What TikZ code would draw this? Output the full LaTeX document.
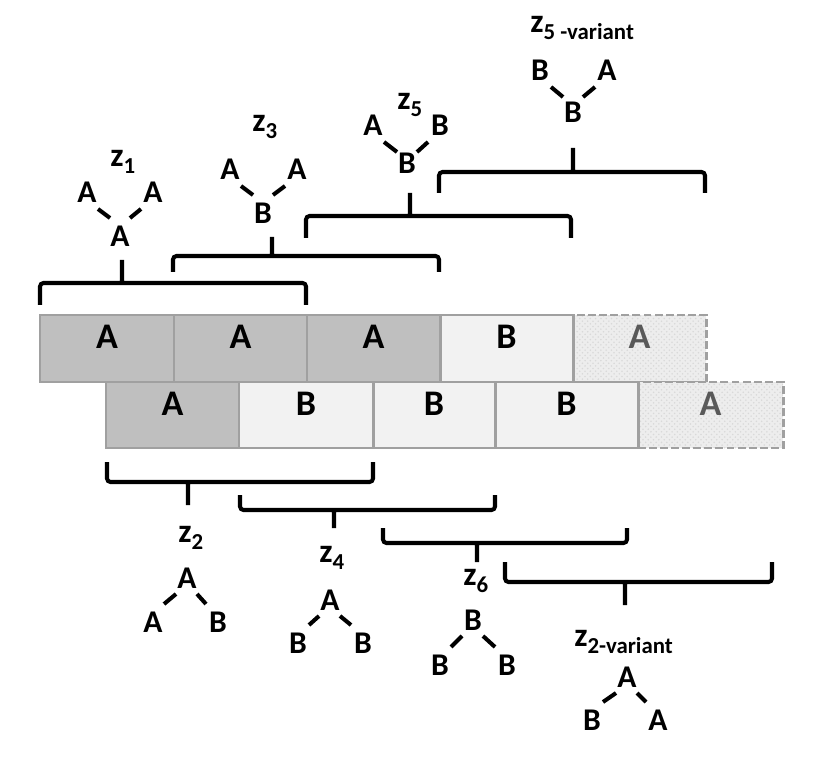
\documentclass[tikz,border=0pt]{standalone}
\usepackage{fontspec}
\setmainfont{Carlito}
\usetikzlibrary{calc,fit,patterns}
\definecolor{darkcell}{HTML}{BFBFBF}
\definecolor{lightcell}{HTML}{F2F2F2}
\definecolor{cellline}{HTML}{A0A0A0}
\definecolor{ghostcell}{HTML}{EDEDED}
\definecolor{ghosttext}{HTML}{595959}
\tikzset{cell/.style={draw=cellline, line width=1.7pt, inner sep=0pt, font=\fontsize{20.5}{22}\selectfont\bfseries},
  acell/.style={cell, fill=darkcell},
  bcell/.style={cell, fill=lightcell},
  ghost/.style={cell, dash pattern=on 4.5pt off 1.8pt, preaction={fill=ghostcell},
    pattern=crosshatch dots, pattern color=gray!30, text=ghosttext},
  brace/.style={line width=2.3pt, rounded corners=2pt},
  bond/.style={line width=2.3pt},
  leaf/.style={inner sep=0pt, font=\fontsize{18}{20}\selectfont\bfseries},
  zlabel/.style={inner sep=0pt, anchor=base west, font=\fontsize{19}{21}\selectfont\bfseries}}
\newcommand{\zname}[1]{z\raisebox{-0.14cm}{\fontsize{13}{14}\selectfont #1}}

\begin{document}
\begin{tikzpicture}[x=0.02cm, y=-0.02cm]
  \useasboundingbox (0,0) rectangle (837,756);
  % upper row
  \node[ghost, fit={(573,315) (706,382)}] (r1e) {A};
  \node[acell, fit={(40,315) (174,382)}] (r1a) {A};
  \node[acell, fit={(174,315) (307,382)}] (r1b) {A};
  \node[acell, fit={(307,315) (440,382)}] (r1c) {A};
  \node[bcell, fit={(440,315) (573,382)}] (r1d) {B};
  % lower row
  \node[ghost, fit={(638,382) (783,448)}] (r2e) {A};
  \node[acell, fit={(106,382) (239,448)}] (r2a) {A};
  \node[bcell, fit={(239,382) (373,448)}] (r2b) {B};
  \node[bcell, fit={(373,382) (495,448)}] (r2c) {B};
  \node[bcell, fit={(495,382) (638,448)}] (r2d) {B};

  % braces above
  \draw[brace] (40,305) -- (40,283) -- (306,283) -- (306,305) (122,283) -- (122,260);
  \draw[brace] (173,272) -- (173,256) -- (439,256) -- (439,272) (272,256) -- (272,237);
  \draw[brace] (306,238) -- (306,216) -- (571,216) -- (571,238) (410,216) -- (410,193);
  \draw[brace] (439,193) -- (439,172) -- (705,172) -- (705,193) (573,172) -- (573,148);
  % braces below
  \draw[brace] (107,462) -- (107,482) -- (373,482) -- (373,462) (188,482) -- (188,505);
  \draw[brace] (240,495) -- (240,510) -- (495,510) -- (495,495) (334,510) -- (334,528);
  \draw[brace] (383,528) -- (383,543) -- (627,543) -- (627,528) (477,543) -- (477,562);
  \draw[brace] (505,562) -- (505,582) -- (772,582) -- (772,562) (625,582) -- (625,605);

  % labels
  \node[zlabel] (n1) at (110,167) {\zname{1}};
  \node[zlabel] (n3) at (252,132) {\zname{3}};
  \node[zlabel] (n5) at (397,110) {\zname{5}};
  \node[zlabel] (n5v) at (530,33) {\zname{5 -variant}};
  \node[zlabel] (n2) at (178,542) {\zname{2}};
  \node[zlabel] (n4) at (319,562) {\zname{4}};
  \node[zlabel] (n6) at (463,585) {\zname{6}};
  \node[zlabel] (n2v) at (574,646) {\zname{2-variant}};

  % trees above
  \node[leaf] (z1-l) at (87,192) {A};
  \node[leaf] (z1-r) at (153,192) {A};
  \node[leaf] (z1-b) at (120,236) {A};
  \node[leaf] (z3-l) at (230,169) {A};
  \node[leaf] (z3-r) at (297,169) {A};
  \node[leaf] (z3-b) at (263,213) {B};
  \node[leaf] (z5-l) at (373,125) {A};
  \node[leaf] (z5-r) at (440,125) {B};
  \node[leaf] (z5-b) at (407,163) {B};
  \node[leaf] (z5v-l) at (540,70) {B};
  \node[leaf] (z5v-r) at (607,70) {A};
  \node[leaf] (z5v-b) at (573,112) {B};
  \foreach \t/\d in {z1/18,z3/18,z5/11,z5v/15} {
    \draw[bond] ([shift={(11,17)}]\t-l.center) -- ([shift={(-10,-\d)}]\t-b.center);
    \draw[bond] ([shift={(10,-\d)}]\t-b.center) -- ([shift={(-12,17)}]\t-r.center);
  }
  % trees below
  \node[leaf] (z2-t) at (187,578) {A};
  \node[leaf] (z2-l) at (153,622) {A};
  \node[leaf] (z2-r) at (218,622) {B};
  \node[leaf] (z4-t) at (330,600) {A};
  \node[leaf] (z4-l) at (298,643) {B};
  \node[leaf] (z4-r) at (363,643) {B};
  \node[leaf] (z6-t) at (473,620) {B};
  \node[leaf] (z6-l) at (440,665) {B};
  \node[leaf] (z6-r) at (507,665) {B};
  \node[leaf] (z2v-t) at (627,677) {A};
  \node[leaf] (z2v-l) at (592,720) {B};
  \node[leaf] (z2v-r) at (658,720) {A};
  \foreach \t in {z2,z4,z6,z2v} {
    \draw[bond] ([shift={(11,-18)}]\t-l.center) -- ([shift={(-11,16)}]\t-t.center);
    \draw[bond] ([shift={(10,16)}]\t-t.center) -- ([shift={(-12,-18)}]\t-r.center);
  }
\end{tikzpicture}
\end{document}
